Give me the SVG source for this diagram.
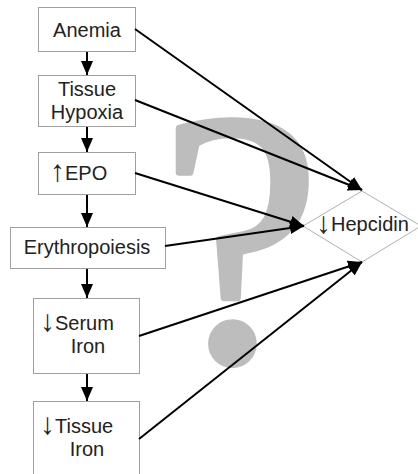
<svg xmlns="http://www.w3.org/2000/svg" width="418" height="474" viewBox="0 0 418 474">
<style>
.box{fill:#fff;stroke:#a0a0a0;stroke-width:1}
.t{font-family:"Liberation Sans",Arial,sans-serif;font-size:20px;fill:#222}
.c{text-anchor:middle}
.ar{font-size:30px}
.ln{stroke:#000;stroke-width:2;fill:none;marker-end:url(#ah)}
.q{font-family:"Liberation Serif","Times New Roman",serif;font-size:362px;letter-spacing:-12px;fill:#bdbdbd;stroke:#bdbdbd;stroke-width:6;stroke-linejoin:round}
</style>
<defs>
<marker id="ah" markerUnits="userSpaceOnUse" markerWidth="14" markerHeight="12" refX="14" refY="6" orient="auto" viewBox="0 0 14 12">
<path d="M0,0 L14,6 L0,12 z" fill="#000"/>
</marker>
</defs>
<rect width="418" height="474" fill="#fff"/>
<text class="q" x="160" y="360">?</text>
<g id="anemia"><rect class="box" x="38.5" y="7.5" width="97" height="44"/><text class="t c" x="87" y="36.5">Anemia</text></g>
<g id="hypoxia"><rect class="box" x="38.5" y="75.5" width="97" height="51"/><text class="t c" x="87" y="96">Tissue</text><text class="t c" x="87" y="119">Hypoxia</text></g>
<g id="epo"><rect class="box" x="38.5" y="152.5" width="97" height="42"/><text class="t" x="50" y="181"><tspan class="ar">↑</tspan><tspan dy="-1">EPO</tspan></text></g>
<g id="erythro"><rect class="box" x="10.5" y="227.5" width="155" height="41"/><text class="t c" x="87" y="254">Erythropoiesis</text></g>
<g id="serum"><rect class="box" x="33.5" y="298.5" width="106" height="75"/><text class="t" x="40" y="331"><tspan class="ar">↓</tspan><tspan dy="-1">Serum</tspan></text><text class="t c" x="88" y="353">Iron</text></g>
<g id="tissueiron"><rect class="box" x="33.5" y="401.5" width="106" height="80"/><text class="t" x="40" y="434"><tspan class="ar">↓</tspan><tspan dy="-1">Tissue</tspan></text><text class="t c" x="87" y="456">Iron</text></g>
<g id="hepcidin"><polygon points="303,226 362,191 421,226 362,262" fill="none" stroke="#b0b0b0" stroke-width="1"/><text class="t" x="316" y="233"><tspan class="ar">↓</tspan><tspan dy="-2">Hepcidin</tspan></text></g>
<g id="connectors">
<line class="ln" x1="87" y1="52" x2="87" y2="75"/>
<line class="ln" x1="87" y1="127" x2="87" y2="152"/>
<line class="ln" x1="87" y1="195" x2="87" y2="227"/>
<line class="ln" x1="87" y1="269" x2="87" y2="298"/>
<line class="ln" x1="87" y1="374" x2="87" y2="401"/>
<line class="ln" x1="135" y1="29" x2="362" y2="190"/>
<line class="ln" x1="135" y1="100" x2="362" y2="190"/>
<line class="ln" x1="135" y1="173" x2="304" y2="226"/>
<line class="ln" x1="165" y1="246" x2="304" y2="226"/>
<line class="ln" x1="139" y1="336" x2="362" y2="262"/>
<line class="ln" x1="139" y1="439" x2="362" y2="262"/>
</g>
</svg>
